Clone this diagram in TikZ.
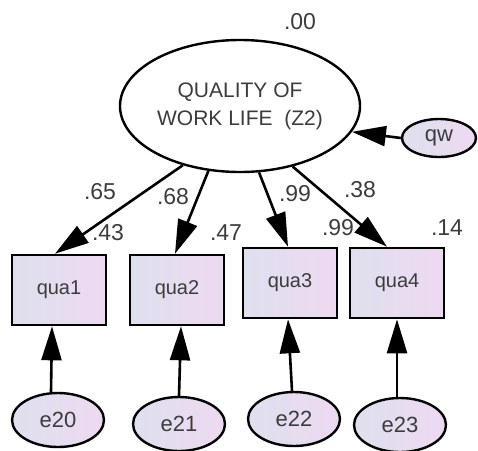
\documentclass[tikz,border=0pt]{standalone}
\usepackage{fontspec}
\setmainfont{Liberation Sans}
\usetikzlibrary{arrows.meta,shapes.geometric}
\definecolor{txt}{HTML}{3C3C3C}
\definecolor{fillL}{HTML}{DFE0EE}
\definecolor{fillR}{HTML}{EDD9F1}
\tikzset{
  obs/.style={draw=black, line width=2.6pt, rectangle, minimum width=94pt, minimum height=70pt,
    left color=fillL, right color=fillR, text=txt, font=\fontsize{20}{22}\selectfont},
  err/.style={draw=black, line width=2.4pt, ellipse, minimum width=92pt, minimum height=54pt,
    left color=fillL, right color=fillR, text=txt, inner sep=0pt, font=\fontsize{22}{24}\selectfont},
  latent/.style={draw=black, line width=2.4pt, ellipse, minimum width=240pt, minimum height=132pt,
    fill=white, text=txt, align=center, inner sep=0pt, font=\fontsize{21}{28}\selectfont},
  path/.style={draw=black, line width=2.6pt, -{Triangle[length=34pt,width=20pt]}},
  coef/.style={text=txt, font=\fontsize{23}{24}\selectfont, inner sep=0pt}
}
\begin{document}
\begin{tikzpicture}[x=1pt,y=-1pt]
\useasboundingbox (0,0) rectangle (478,450);

% latent factor and its disturbance
\node[latent] (Z) at (240,106) {\raisebox{-10pt}{\begin{tabular}{@{}c@{}}QUALITY OF\\WORK LIFE\ \ (Z2)\end{tabular}}};
\node[err, minimum width=74pt, minimum height=38pt] (qw) at (439,138) {qw};

% observed indicators
\node[obs] (q1) at (59,290) {qua1};
\node[obs] (q2) at (177,290) {qua2};
\node[obs] (q3) at (290,283) {qua3};
\node[obs] (q4) at (397,283) {qua4};

% measurement errors
\node[err] (e20) at (58,420) {e20};
\node[err] (e21) at (179,424) {e21};
\node[err] (e22) at (294,419) {e22};
\node[err] (e23) at (400,425) {e23};

% loadings
\draw[path] (Z.-134) -- ([xshift=-4pt]q1.north);
\draw[path] (Z.-116) -- ([xshift=-2pt]q2.north);
\draw[path] (Z.-74) -- ([xshift=-2pt]q3.north);
\draw[path] (Z.-49) -- ([xshift=-10pt]q4.north);
\draw[path] (qw.west) -- (Z.-13);

% error paths
\draw[path] ([xshift=-7pt]e20.north) -- ([xshift=-7pt]q1.south);
\draw[path] (e21.north) -- ([xshift=4pt]q2.south);
\draw[path] ([xshift=-2pt]e22.north) -- ([xshift=-2pt]q3.south);
\draw[path] ([xshift=-3pt]e23.north) -- (q4.south);

% estimates
\node[coef] (r0) at (300,22) {.00};
\node[coef] (l1) at (100,192) {.65};
\node[coef] (l2) at (173,197) {.68};
\node[coef] (l3) at (295,194) {.99};
\node[coef] (l4) at (360,190) {.38};
\node[coef] (r1) at (108,233) {.43};
\node[coef] (r2) at (226,233) {.47};
\node[coef] (r3) at (338,228) {.99};
\node[coef] (r4) at (447,228) {.14};
\end{tikzpicture}
\end{document}
